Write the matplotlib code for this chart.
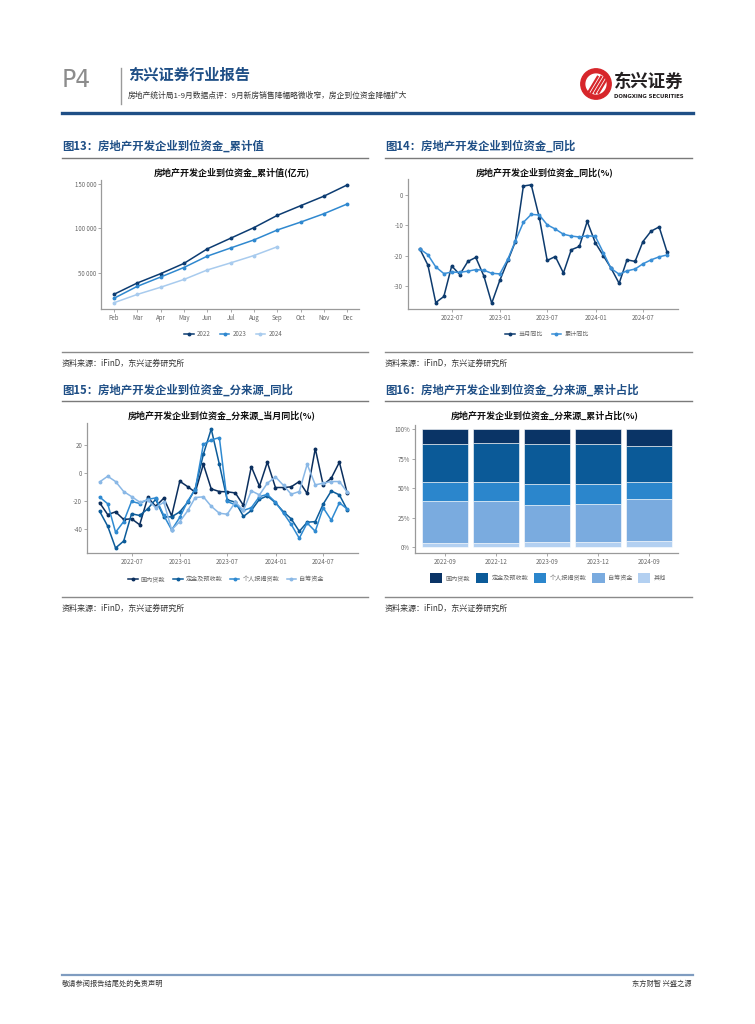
import numpy as np
import pandas as pd
import matplotlib
matplotlib.use('Agg')
import matplotlib.pyplot as plt
import matplotlib.dates as mdates
from matplotlib.lines import Line2D
from matplotlib.patches import Circle, Patch
from matplotlib.ticker import FuncFormatter

plt.rcParams['font.family'] = ['Noto Sans CJK SC', 'DejaVu Sans']
plt.rcParams['axes.unicode_minus'] = False

# ---- data ----
months13 = ['Feb', 'Mar', 'Apr', 'May', 'Jun', 'Jul', 'Aug', 'Sep', 'Oct', 'Nov', 'Dec']
cum_2022 = [25500, 38300, 48800, 60400, 76800, 88800, 100800, 114600, 125500, 136300, 149000]
cum_2023 = [21000, 34500, 45000, 55800, 68600, 77800, 86900, 98100, 107000, 116500, 127500]
cum_2024 = [16000, 25400, 33500, 42300, 53000, 61000, 69300, 79200]

dates = pd.date_range('2022-02-28', periods=32, freq='ME')
yoy_month = [-17.7, -23.0, -35.3, -33.3, -23.3, -26.1, -21.8, -20.5, -26.6, -35.5, -28.0,
             -21.5, -15.4, 2.9, 3.3, -7.5, -21.5, -20.2, -25.6, -18.0, -16.9, -8.7, -15.7,
             -20.0, -24.0, -29.0, -21.3, -21.8, -15.3, -11.9, -10.5, -18.7]
yoy_cum = [-17.7, -19.6, -23.6, -25.8, -25.3, -25.4, -25.0, -24.5, -24.7, -25.7, -25.9,
           -21.0, -15.2, -9.0, -6.4, -6.6, -9.8, -11.2, -12.9, -13.5, -13.8, -13.4, -13.6,
           -19.0, -24.1, -26.0, -24.9, -24.3, -22.6, -21.3, -20.3, -19.7]

src_names = ['国内贷款', '定金及预收款', '个人按揭贷款', '自筹资金']
src_loan = [-21.4, -30.0, -28.0, -33.5, -33.0, -37.3, -17.6, -24.0, -18.2, -30.9, -6.0,
            -10.0, -13.9, 6.2, -11.5, -13.4, -13.6, -14.4, -23.4, 4.5, -9.6, 7.7, -10.5,
            -10.5, -10.0, -6.2, -14.8, 17.5, -8.6, -3.8, 7.7, -14.8]
src_deposit = [-27.5, -38.3, -54.0, -49.0, -29.4, -30.6, -25.8, -19.0, -31.6, -31.6, -28.0,
               -21.0, -11.3, 13.4, 31.6, 6.2, -19.4, -21.0, -31.3, -27.0, -19.0, -16.5, -21.5,
               -28.0, -33.0, -42.0, -35.5, -35.0, -22.5, -13.0, -15.8, -26.5]
src_mortgage = [-17.3, -22.2, -42.7, -35.0, -20.5, -22.0, -19.0, -18.0, -30.6, -41.0, -32.0,
                -20.0, -12.0, 20.6, 23.7, 25.4, -20.5, -23.0, -27.0, -25.0, -17.0, -15.5, -21.0,
                -29.0, -37.0, -47.0, -36.0, -42.0, -25.0, -34.0, -21.5, -26.0]
src_self = [-6.5, -2.4, -6.2, -13.4, -17.0, -21.0, -19.6, -24.9, -21.0, -40.9, -35.0,
            -27.0, -17.7, -17.2, -24.0, -29.0, -29.7, -21.0, -27.0, -12.9, -15.8, -7.4, -2.9,
            -9.0, -15.3, -13.4, 6.2, -8.6, -7.4, -6.2, -6.2, -13.9]

bar_cats = ['2022-09', '2022-12', '2023-09', '2023-12', '2024-09']
share_names = ['国内贷款', '定金及预收款', '个人按揭贷款', '自筹资金', '其他']
share_other = [3.9, 3.9, 4.5, 4.5, 5.4]
share_self = [35.3, 35.3, 31.6, 32.1, 35.7]
share_mortgage = [16.0, 16.0, 17.7, 17.2, 14.4]
share_deposit = [32.4, 33.0, 33.5, 33.8, 30.1]
share_loan = [12.4, 11.8, 12.7, 12.4, 14.4]

# ---- page helpers ----
W, H = 755, 1024
fig = plt.figure(figsize=(W / 100, H / 100), dpi=100)
fig.patch.set_facecolor('white')


def box(x0, y0, x1, y1):
    return [x0 / W, 1 - y1 / H, (x1 - x0) / W, (y1 - y0) / H]


def ftext(x, y, s, **kw):
    fig.text(x / W, 1 - y / H, s, **kw)


def hline(x0, x1, y, color, lw):
    fig.add_artist(Line2D([x0 / W, x1 / W], [1 - y / H, 1 - y / H], color=color, lw=lw,
                          transform=fig.transFigure))


BLUE = '#1f4f86'
TICK = '#666666'


def style_axes(ax):
    for s in ['top', 'right']:
        ax.spines[s].set_visible(False)
    for s in ['left', 'bottom']:
        ax.spines[s].set_color('#9a9a9a')
        ax.spines[s].set_linewidth(0.9)
    ax.tick_params(axis='both', labelsize=4.4, colors='#9a9a9a', labelcolor=TICK,
                   length=2, width=0.6, pad=1.5)
    ax.set_facecolor('white')


# header
ftext(62, 80, 'P4', fontsize=17, color='#8c8c8c', va='center', family=['DejaVu Sans'])
fig.add_artist(Line2D([121 / W, 121 / W], [1 - 68 / H, 1 - 104 / H], color='#9a9a9a', lw=1,
                      transform=fig.transFigure))
ftext(128, 75, '东兴证券行业报告', fontsize=11, fontweight='bold', color=BLUE, va='center')
ftext(128, 96, '房地产统计局1-9月数据点评：9月新房销售降幅略微收窄，房企到位资金降幅扩大',
      fontsize=5.6, color='#333333', va='center', style='italic')
hline(62, 693, 113, '#1f4f86', 2.4)

# logo
logo = fig.add_axes(box(580, 68, 612, 100))
logo.set_xlim(-1, 1)
logo.set_ylim(-1, 1)
logo.set_aspect('equal')
logo.axis('off')
logo.add_patch(Circle((0, 0), 0.95, color='#d7262b'))
logo.add_patch(Circle((0, 0), 0.62, color='white'))
for k in range(4):
    logo.plot([-0.5 + 0.22 * k, 0.1 + 0.22 * k], [-0.55, 0.45], color='#d7262b', lw=1.6)
ftext(614, 82, '东兴证券', fontsize=12.5, fontweight='bold', color='#231f20', va='center')
ftext(614, 96, 'DONGXING SECURITIES', fontsize=3.9, fontweight='bold', color='#231f20',
      va='center', family=['DejaVu Sans'])

# section titles
sections = [(62, 368, 146, 158, '图13：房地产开发企业到位资金_累计值'),
            (385, 692, 146, 158, '图14：房地产开发企业到位资金_同比'),
            (62, 368, 390, 401, '图15：房地产开发企业到位资金_分来源_同比'),
            (385, 692, 390, 401, '图16：房地产开发企业到位资金_分来源_累计占比')]
for x0, x1, ty, ly, s in sections:
    ftext(x0, ty, s, fontsize=8.2, fontweight='bold', color=BLUE, va='center')
    hline(x0, x1, ly, '#7a7a7a', 1.0)

for x0, x1, ly in [(62, 368, 352), (385, 692, 352), (62, 368, 597), (385, 692, 597)]:
    hline(x0, x1, ly, '#8a8a8a', 1.0)
    ftext(x0, ly + 11, '资料来源：iFinD，东兴证券研究所', fontsize=5.8, color='#333333',
          va='center', style='italic')

# ---- chart 13 ----
ax = fig.add_axes(box(101, 180, 359, 309))
style_axes(ax)
x13 = np.arange(len(months13))
c13 = ['#0c3c72', '#2f88cf', '#a8cbee']
for vals, c, lab in zip([cum_2022, cum_2023, cum_2024], c13, ['2022', '2023', '2024']):
    ax.plot(x13[:len(vals)], vals, color=c, lw=1.1, marker='o', ms=1.8, label=lab)
ax.set_xlim(-0.55, 10.5)
ax.set_ylim(9000, 154500)
ax.set_xticks(x13)
ax.set_xticklabels(months13)
ax.set_yticks([50000, 100000, 150000])
ax.yaxis.set_major_formatter(FuncFormatter(lambda v, p: f'{int(v):,}'.replace(',', ' ')))
ftext(232, 172, '房地产开发企业到位资金_累计值(亿元)', fontsize=6.5, fontweight='bold',
      ha='center', va='center', color='#111111')
ax.legend(loc='center', bbox_to_anchor=(233 / W, 1 - 334 / H), bbox_transform=fig.transFigure,
          ncol=3, frameon=False, fontsize=4.4, handlelength=1.6, columnspacing=1.5,
          handletextpad=0.5, labelcolor=TICK)

# ---- chart 14 ----
ax = fig.add_axes(box(408, 179, 678, 309))
style_axes(ax)
ax.plot(dates, yoy_month, color='#0d3b6e', lw=1.1, marker='o', ms=1.8, label='当月同比')
ax.plot(dates, yoy_cum, color='#3a8fd6', lw=1.1, marker='o', ms=1.8, label='累计同比')
ax.set_xlim(dates[0] - pd.Timedelta(days=45), dates[-1] + pd.Timedelta(days=42))
ax.set_ylim(-37.4, 5.2)
ax.set_yticks([0, -10, -20, -30])
ticks = pd.to_datetime(['2022-07-01', '2023-01-01', '2023-07-01', '2024-01-01', '2024-07-01'])
ax.set_xticks(ticks)
ax.xaxis.set_major_formatter(mdates.DateFormatter('%Y-%m'))
ftext(545, 172, '房地产开发企业到位资金_同比(%)', fontsize=6.5, fontweight='bold',
      ha='center', va='center', color='#111111')
ax.legend(loc='center', bbox_to_anchor=(547 / W, 1 - 334 / H), bbox_transform=fig.transFigure,
          ncol=2, frameon=False, fontsize=4.4, handlelength=1.6, columnspacing=1.5,
          handletextpad=0.5, labelcolor=TICK)

# ---- chart 15 ----
ax = fig.add_axes(box(87, 423, 358, 553))
style_axes(ax)
c15 = ['#0b2f5e', '#0c5c9a', '#2f8ad1', '#8ab8e6']
for vals, c, lab in zip([src_loan, src_deposit, src_mortgage, src_self], c15, src_names):
    ax.plot(dates, vals, color=c, lw=1.1, marker='o', ms=1.8, label=lab)
ax.set_xlim(dates[0] - pd.Timedelta(days=48), dates[-1] + pd.Timedelta(days=41))
ax.set_ylim(-57.6, 35.9)
ax.set_yticks([20, 0, -20, -40])
ax.set_xticks(ticks)
ax.xaxis.set_major_formatter(mdates.DateFormatter('%Y-%m'))
ftext(222, 415, '房地产开发企业到位资金_分来源_当月同比(%)', fontsize=6.5, fontweight='bold',
      ha='center', va='center', color='#111111')
ax.legend(loc='center', bbox_to_anchor=(226 / W, 1 - 579 / H), bbox_transform=fig.transFigure,
          ncol=4, frameon=False, fontsize=4.4, handlelength=1.6, columnspacing=1.2,
          handletextpad=0.5, labelcolor=TICK)

# ---- chart 16 ----
ax = fig.add_axes(box(415, 425, 678, 553))
style_axes(ax)
xb = np.arange(len(bar_cats))
c16 = ['#0a3466', '#0b5a98', '#2b86cc', '#7aabdf', '#b3d0f1']
stack = [share_other, share_self, share_mortgage, share_deposit, share_loan]
stack_names = ['其他', '自筹资金', '个人按揭贷款', '定金及预收款', '国内贷款']
stack_cols = c16[::-1]
bottom = np.zeros(len(bar_cats))
handles = {}
for vals, c, lab in zip(stack, stack_cols, stack_names):
    ax.bar(xb, vals, bottom=bottom, width=0.9, color=c, edgecolor='white', linewidth=0.4)
    handles[lab] = Patch(facecolor=c)
    bottom += np.array(vals)
ax.set_xlim(-0.58, 4.57)
ax.set_ylim(-5, 103.5)
ax.set_yticks([0, 25, 50, 75, 100])
ax.set_yticklabels(['0%', '25%', '50%', '75%', '100%'])
ax.set_xticks(xb)
ax.set_xticklabels(bar_cats)
ftext(545, 415, '房地产开发企业到位资金_分来源_累计占比(%)', fontsize=6.5, fontweight='bold',
      ha='center', va='center', color='#111111')
ax.legend([handles[n] for n in share_names], share_names, loc='center',
          bbox_to_anchor=(548 / W, 1 - 578 / H), bbox_transform=fig.transFigure,
          ncol=5, frameon=False, fontsize=4.4, handlelength=2.0, handleheight=2.0,
          columnspacing=1.0, handletextpad=0.5, labelcolor=TICK)

# footer
hline(62, 693, 975, '#7f9cc0', 1.6)
ftext(62, 984, '敬请参阅报告结尾处的免责声明', fontsize=5.2, color='#333333', va='center')
ftext(692, 984, '东方财智 兴盛之源', fontsize=5.2, color='#333333', va='center', ha='right')

fig.savefig('out.png', dpi=100, facecolor='white')
